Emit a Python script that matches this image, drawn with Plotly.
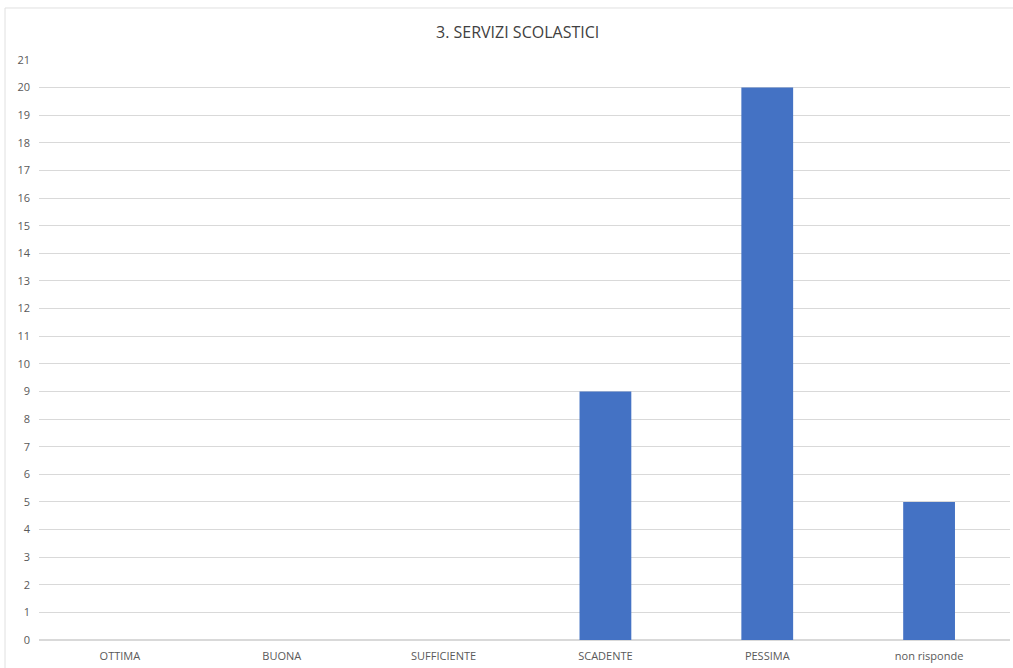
import plotly.graph_objects as go

categories = ["OTTIMA", "BUONA", "SUFFICIENTE", "SCADENTE", "PESSIMA", "non risponde"]
values = [0, 0, 0, 9, 20, 5]
y_ticks = list(range(0, 22))

fig = go.Figure()
fig.add_trace(go.Bar(x=categories, y=values, marker=dict(color="#4472C4", line=dict(width=0)), width=0.32))

fig.update_layout(
    width=1013, height=668,
    margin=dict(l=39, r=3, t=60, b=28),
    paper_bgcolor="white", plot_bgcolor="white",
    font=dict(family="Open Sans, Liberation Sans, sans-serif", color="#595959", size=11),
    title=dict(text="3. SERVIZI SCOLASTICI", x=0.511, xanchor="center", y=0.952, yanchor="middle",
               font=dict(size=16, color="#404040")),
    showlegend=False,
)
fig.update_yaxes(range=[0, 21], tickvals=y_ticks, showgrid=True, gridcolor="#d9d9d9", gridwidth=1,
                 zeroline=True, zerolinecolor="#d9d9d9", showline=False, ticks="", ticklabelstandoff=8,
                 tickfont=dict(size=11, color="#595959"))
fig.update_xaxes(showgrid=False, showline=False, ticks="", ticklabelstandoff=8,
                 tickfont=dict(size=11, color="#595959"))

fig.add_shape(type="rect", xref="paper", yref="paper", x0=-0.035, x1=1.01, y0=-0.06, y1=1.0897,
              line=dict(color="#e0e0e0", width=1), fillcolor="rgba(0,0,0,0)", layer="below")

fig.write_html("out.html", config={"displayModeBar": False},
               post_script="document.body.style.margin='0';document.body.style.overflow='hidden';")
